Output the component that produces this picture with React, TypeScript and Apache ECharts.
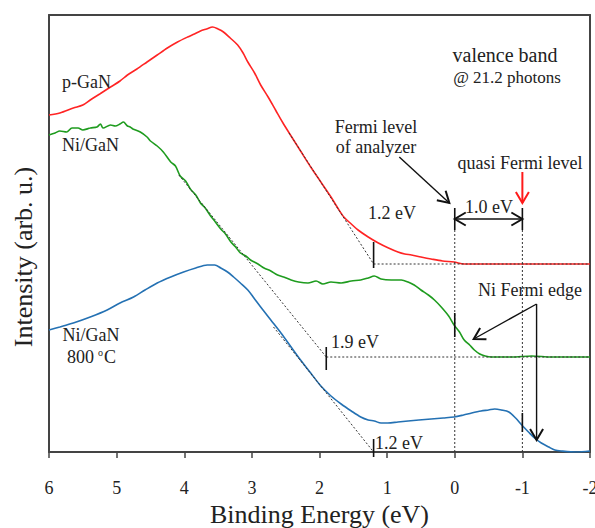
import React, { useEffect, useRef } from "react";
import * as echarts from "echarts";

const FONT = "'Liberation Serif', 'Times New Roman', serif";
const TEXT = "#222";
const AXIS = "#444";

// Valence-band spectra: [binding energy (eV), intensity (arb. u.)]
const pGaN: [number, number][] = [
  [6.0, 337], [5.84, 339], [5.64, 344], [5.5, 347], [5.39, 352], [5.25, 358], [5.09, 365],
  [4.95, 371], [4.84, 377], [4.7, 383], [4.55, 390], [4.4, 397], [4.25, 404], [4.1, 410],
  [3.95, 415], [3.85, 418], [3.76, 421], [3.67, 423], [3.58, 425], [3.5, 423], [3.42, 420],
  [3.32, 414], [3.21, 407], [3.13, 399], [3.06, 390], [2.96, 379], [2.87, 367], [2.76, 355],
  [2.65, 342], [2.54, 329], [2.42, 316], [2.28, 301], [2.13, 285], [1.98, 270], [1.83, 255],
  [1.73, 244], [1.64, 235], [1.53, 228], [1.43, 222], [1.28, 215], [1.13, 209], [0.98, 204],
  [0.84, 200], [0.74, 198], [0.64, 197], [0.5, 195], [0.35, 193], [0.18, 191], [0.01, 190],
  [-0.14, 188], [-0.3, 188], [-0.5, 188], [-0.8, 188], [-1.1, 188], [-1.4, 188], [-1.7, 188],
  [-2.0, 188],
];

const niGaN: [number, number][] = [
  [6.0, 317], [5.91, 319], [5.84, 321], [5.74, 320], [5.66, 324], [5.57, 324], [5.5, 322],
  [5.39, 324], [5.29, 325], [5.24, 328], [5.2, 324], [5.09, 327], [5.02, 326], [4.95, 328],
  [4.9, 330], [4.84, 326], [4.8, 325], [4.76, 323], [4.65, 320], [4.55, 315], [4.5, 311],
  [4.4, 306], [4.31, 300], [4.2, 290], [4.13, 286], [4.06, 276], [3.98, 271], [3.91, 263],
  [3.83, 257], [3.76, 249], [3.69, 244], [3.61, 236], [3.54, 230], [3.46, 223], [3.39, 218],
  [3.31, 210], [3.24, 205], [3.17, 199], [3.09, 196], [3.02, 192], [2.91, 188], [2.82, 184],
  [2.72, 181], [2.62, 177], [2.53, 175], [2.42, 172], [2.31, 170], [2.17, 169], [2.05, 171],
  [1.95, 168], [1.83, 170], [1.68, 169], [1.53, 171], [1.39, 172], [1.28, 174], [1.19, 176],
  [1.09, 173], [0.94, 172], [0.79, 172], [0.69, 170], [0.6, 167], [0.5, 162], [0.39, 157],
  [0.3, 152], [0.2, 145], [0.09, 136], [0.01, 127], [-0.07, 120], [-0.14, 112], [-0.22, 107],
  [-0.29, 102], [-0.37, 98], [-0.45, 96], [-0.54, 95], [-0.84, 95], [-1.14, 96], [-1.43, 95],
  [-1.73, 95], [-2.0, 95],
];

const niGaN800: [number, number][] = [
  [6.0, 122], [5.84, 125], [5.64, 129], [5.39, 135], [5.14, 142], [4.95, 149], [4.75, 155],
  [4.58, 162], [4.4, 169], [4.2, 175], [4.01, 180], [3.83, 184], [3.66, 187], [3.55, 187],
  [3.46, 184], [3.36, 180], [3.27, 175], [3.17, 169], [3.06, 162], [2.97, 154], [2.87, 145],
  [2.72, 132], [2.57, 119], [2.42, 105], [2.28, 92], [2.13, 79], [1.98, 66], [1.83, 56],
  [1.68, 48], [1.53, 41], [1.39, 35], [1.28, 32], [1.19, 31], [1.09, 29], [0.99, 29],
  [0.84, 30], [0.69, 31], [0.53, 32], [0.35, 33], [0.17, 34], [0.01, 35], [-0.13, 37],
  [-0.25, 39], [-0.39, 41], [-0.5, 42], [-0.59, 43], [-0.69, 42], [-0.8, 40], [-0.9, 34],
  [-0.99, 27], [-1.09, 20], [-1.18, 14], [-1.28, 9], [-1.39, 5], [-1.48, 2], [-1.58, 1],
  [-1.8, 0], [-2.0, 1],
];

// Leading-edge extrapolations and the onsets they give (eV)
const onsetValues = [1.2, 1.9, 1.2];
const tangentStarts: [number, number][] = [[2.45, 319], [4.08, 277], [2.68, 125]];
const baselineLevels = [188, 95, 0];
const onsetTickSpans: [number, number][] = [[184, 210], [82, 105], [-5, 13]];

// Fermi level of analyzer (0 eV) and quasi Fermi level of p-GaN
const fermiAnalyzer = 0;
const quasiFermi = -1.0;
const guideSolidSpan: [number, number] = [222, 244];
const edgeTicks: [number, number, number][] = [[0, 115, 139], [-1, 20, 39]];
const offsetArrowLevel = 233;

type Arrow = { from: [number, number]; to: [number, number]; both?: boolean; color: string };
const arrows: Arrow[] = [
  { from: [fermiAnalyzer, offsetArrowLevel], to: [quasiFermi, offsetArrowLevel], both: true, color: "#111" },
  { from: [0.82, 295], to: [0.08, 249], color: "#111" },
  { from: [quasiFermi, 280], to: [quasiFermi, 249], color: "#ff1a1a" },
  { from: [-1.21, 148], to: [-0.28, 113], color: "#111" },
  { from: [-1.21, 148], to: [-1.21, 12], color: "#111" },
];

const seg = (a: [number, number], b: [number, number], style: any, z = 3) => ({
  type: "line",
  data: [a, b],
  symbol: "none",
  silent: true,
  clip: false,
  z,
  lineStyle: style,
});

const dotted = { color: "#333", width: 1, type: [2, 2] };
const solidTick = { color: "#111", width: 1.6 };

const label = (text: string, x: number, y: number, size = 18, align = "center") => ({
  type: "text",
  x,
  y,
  z: 10,
  style: { text, fill: TEXT, fontSize: size, fontFamily: FONT, align, verticalAlign: "middle" },
});

const frameAxis = (extra: any) => ({
  type: "value",
  axisLine: { show: true, onZero: false, lineStyle: { color: AXIS, width: 2 } },
  axisTick: { show: false },
  axisLabel: { show: false },
  splitLine: { show: false },
  ...extra,
});

export default function App() {
  const ref = useRef<HTMLDivElement>(null);

  useEffect(() => {
    if (!ref.current) return;
    const chart = echarts.init(ref.current, undefined, { renderer: "svg" });

    const curve = (name: string, data: [number, number][], color: string) => ({
      name,
      type: "line",
      data,
      symbol: "none",
      smooth: 0.3,
      z: 2,
      lineStyle: { color, width: 1.6 },
    });

    const series: any[] = [
      curve("p-GaN", pGaN, "#ff2424"),
      curve("Ni/GaN", niGaN, "#1f9c1f"),
      curve("Ni/GaN 800 °C", niGaN800, "#2471b3"),
    ];

    onsetValues.forEach((e, i) => {
      series.push(seg(tangentStarts[i], [e, baselineLevels[i]], dotted));
      if (baselineLevels[i] > 0) series.push(seg([e, baselineLevels[i]], [-2, baselineLevels[i]], dotted));
      series.push(seg([e, onsetTickSpans[i][0]], [e, onsetTickSpans[i][1]], solidTick));
    });

    [fermiAnalyzer, quasiFermi].forEach((e) => {
      series.push(seg([e, 0], [e, guideSolidSpan[0]], dotted));
      series.push(seg([e, guideSolidSpan[0]], [e, guideSolidSpan[1]], solidTick));
    });
    edgeTicks.forEach(([e, y0, y1]) => series.push(seg([e, y0], [e, y1], solidTick)));

    series.push({
      type: "custom",
      silent: true,
      z: 5,
      data: arrows.map((a) => [a.from[0], a.from[1], a.to[0], a.to[1]]),
      encode: { x: [0, 2], y: [1, 3] },
      renderItem: (params: any, api: any) => {
        const a = arrows[params.dataIndex];
        const p1 = api.coord(a.from);
        const p2 = api.coord(a.to);
        const head = (tip: number[], tail: number[]) => {
          const dx = tip[0] - tail[0];
          const dy = tip[1] - tail[1];
          const len = Math.hypot(dx, dy) || 1;
          const ux = dx / len;
          const uy = dy / len;
          const L = 11;
          const W = 6.5;
          return {
            type: "polyline",
            shape: {
              points: [
                [tip[0] - ux * L - uy * W, tip[1] - uy * L + ux * W],
                [tip[0], tip[1]],
                [tip[0] - ux * L + uy * W, tip[1] - uy * L - ux * W],
              ],
            },
            style: { stroke: a.color, lineWidth: 2, fill: "none" },
          };
        };
        const children: any[] = [
          {
            type: "line",
            shape: { x1: p1[0], y1: p1[1], x2: p2[0], y2: p2[1] },
            style: { stroke: a.color, lineWidth: a.color === "#111" ? 1.4 : 2 },
          },
          head(p2, p1),
        ];
        if (a.both) children.push(head(p1, p2));
        return { type: "group", children };
      },
    });

    const offset = Math.abs(fermiAnalyzer - quasiFermi);

    chart.setOption({
      animation: false,
      grid: { left: 49, right: 5, top: 15, bottom: 76, outerBoundsMode: "none", containLabel: false },
      xAxis: [
        {
          type: "value",
          inverse: true,
          min: -2,
          max: 6,
          interval: 1,
          name: "Binding Energy (eV)",
          nameLocation: "middle",
          nameGap: 49,
          nameTextStyle: { fontFamily: FONT, fontSize: 26, color: TEXT },
          axisLine: { onZero: false, lineStyle: { color: AXIS, width: 2 } },
          axisTick: { show: true, length: 6, inside: false, lineStyle: { color: AXIS, width: 1.5 } },
          axisLabel: { fontFamily: FONT, fontSize: 18, color: TEXT, margin: 27 },
          splitLine: { show: false },
        },
        frameAxis({ position: "top", inverse: true, min: -2, max: 6 }),
      ],
      yAxis: [
        frameAxis({ position: "left", min: 0, max: 437 }),
        frameAxis({ position: "right", min: 0, max: 437 }),
      ],
      graphic: [
        {
          type: "text",
          x: 23,
          y: 257,
          rotation: Math.PI / 2,
          style: {
            text: "Intensity (arb. u.)",
            fill: TEXT,
            fontSize: 26,
            fontFamily: FONT,
            align: "center",
            verticalAlign: "middle",
          },
        },
        label("valence band", 505, 55, 20),
        label("@ 21.2 photons", 507, 77, 17),
        label("p-GaN", 62, 82, 18, "left"),
        label("Ni/GaN", 62, 145, 18, "left"),
        label("Ni/GaN", 91, 335, 18),
        label("800", 67, 357, 18, "left"),
        label("o", 98, 352, 10, "left"),
        label("C", 104, 357, 18, "left"),
        label("Fermi level", 376, 127),
        label("of analyzer", 376, 147),
        label("quasi Fermi level", 520, 163),
        label(`${offset.toFixed(1)} eV`, 489, 207),
        label(`${onsetValues[0].toFixed(1)} eV`, 392, 213),
        label(`${onsetValues[1].toFixed(1)} eV`, 355, 342),
        label(`${onsetValues[2].toFixed(1)} eV`, 399, 443),
        label("Ni Fermi edge", 530, 290),
      ],
      series,
    });

    return () => chart.dispose();
  }, []);

  return (
    <div
      ref={ref}
      style={{ position: "fixed", left: 0, top: 0, width: 595, height: 528, background: "#fff" }}
    />
  );
}
